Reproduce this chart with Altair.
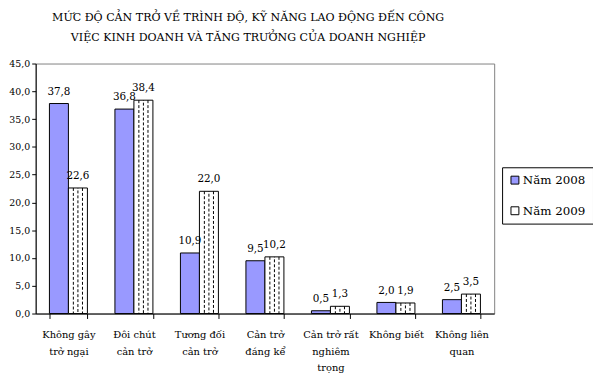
import altair as alt
import pandas as pd

categories = [
    "Không gây\ntrở ngại",
    "Đôi chút\ncản trở",
    "Tương đối\ncản trở",
    "Cản trở\nđáng kể",
    "Cản trở rất\nnghiêm\ntrọng",
    "Không biết",
    "Không liên\nquan",
]
series_names = ["Năm 2008", "Năm 2009"]
values_2008 = [37.8, 36.8, 10.9, 9.5, 0.5, 2.0, 2.5]
values_2009 = [22.6, 38.4, 22.0, 10.2, 1.3, 1.9, 3.5]
y_ticks = [0, 5, 10, 15, 20, 25, 30, 35, 40, 45]
title_lines = [
    "MỨC ĐỘ CẢN TRỞ VỀ TRÌNH ĐỘ, KỸ NĂNG LAO ĐỘNG ĐẾN CÔNG",
    "VIỆC KINH DOANH VÀ TĂNG TRƯỞNG CỦA DOANH NGHIỆP",
]

rows = []
for c, v in zip(categories, values_2008):
    rows.append({"cat": c, "series": series_names[0], "value": v})
for c, v in zip(categories, values_2009):
    rows.append({"cat": c, "series": series_names[1], "value": v})
df = pd.DataFrame(rows)

FONT = "DejaVu Serif"

x_axis = alt.Axis(
    title=None,
    labelAngle=0,
    labelExpr="split(datum.label, '\\n')",
    labelLineHeight=17,
    labelFontSize=10,
    labelFont=FONT,
    labelColor="black",
    labelPadding=11,
    labelOverlap=False,
    labelLimit=200,
    tickBand="extent",
    tickSize=5,
    tickColor="black",
    domainColor="black",
    grid=False,
)
y_axis = alt.Axis(
    title=None,
    values=y_ticks,
    labelExpr="replace(format(datum.value, '.1f'), '.', ',')",
    labelFontSize=9.5,
    labelFont=FONT,
    labelColor="black",
    labelPadding=2,
    labelOverlap=False,
    labelFlush=False,
    tickSize=4,
    tickColor="black",
    domainColor="black",
    grid=False,
)
x_scale = alt.Scale(paddingInner=0.42, paddingOuter=0.21)
y_scale = alt.Scale(domain=[0, 45], nice=False)


def xe(**kw):
    return alt.X("cat:N", sort=categories, scale=x_scale, axis=x_axis, **kw)


def ye():
    return alt.Y("value:Q", scale=y_scale, axis=y_axis)


xoff = alt.XOffset("series:N", sort=series_names)

base = alt.Chart(df)

bars = base.mark_bar(stroke="black", strokeWidth=1).encode(
    x=xe(),
    y=ye(),
    xOffset=xoff,
    fill=alt.Fill(
        "series:N",
        sort=series_names,
        scale=alt.Scale(domain=series_names, range=["#9999FF", "#FFFFFF"]),
        legend=alt.Legend(
            title=None,
            orient="none",
            legendX=472,
            legendY=105,
            symbolType="square",
            symbolSize=64,
            symbolStrokeColor="black",
            symbolStrokeWidth=1,
            labelFont=FONT,
            labelFontSize=12,
            labelColor="black",
            strokeColor="black",
            fillColor="white",
            padding=7,
            rowPadding=19,
            labelOffset=2,
        ),
    ),
)

hatch_layers = []
for bp, dash_off in [(0.63, 0), (0.75, 2.5), (0.87, 0)]:
    hatch_layers.append(
        base.transform_filter(alt.datum.series == series_names[1])
        .mark_rule(color="black", strokeWidth=1, strokeDash=[3, 2], strokeDashOffset=dash_off)
        .encode(
            x=xe(bandPosition=bp),
            y=ye(),
            y2=alt.datum(0),
        )
    )

labels = (
    base.transform_calculate(lbl="replace(format(datum.value, '.1f'), '.', ',')")
    .mark_text(dy=-7, font=FONT, fontSize=10.5, color="black", baseline="bottom")
    .encode(x=xe(), y=ye(), xOffset=xoff, text="lbl:N")
)

chart = (
    alt.layer(bars, *hatch_layers, labels)
    .properties(
        width=464,
        height=253,
        autosize=alt.AutoSizeParams(type="none"),
        padding={"left": 28, "top": 54, "right": 100, "bottom": 59},
        title=alt.TitleParams(
            text=title_lines,
            font=FONT,
            fontSize=11.2,
            fontWeight="normal",
            color="black",
            anchor="middle",
            frame="group",
            lineHeight=20,
            dx=-17,
            offset=16,
        ),
    )
    .configure_view(stroke="#808080", strokeWidth=1)
)

chart.save("out.html", embed_options={"renderer": "svg", "actions": False})
